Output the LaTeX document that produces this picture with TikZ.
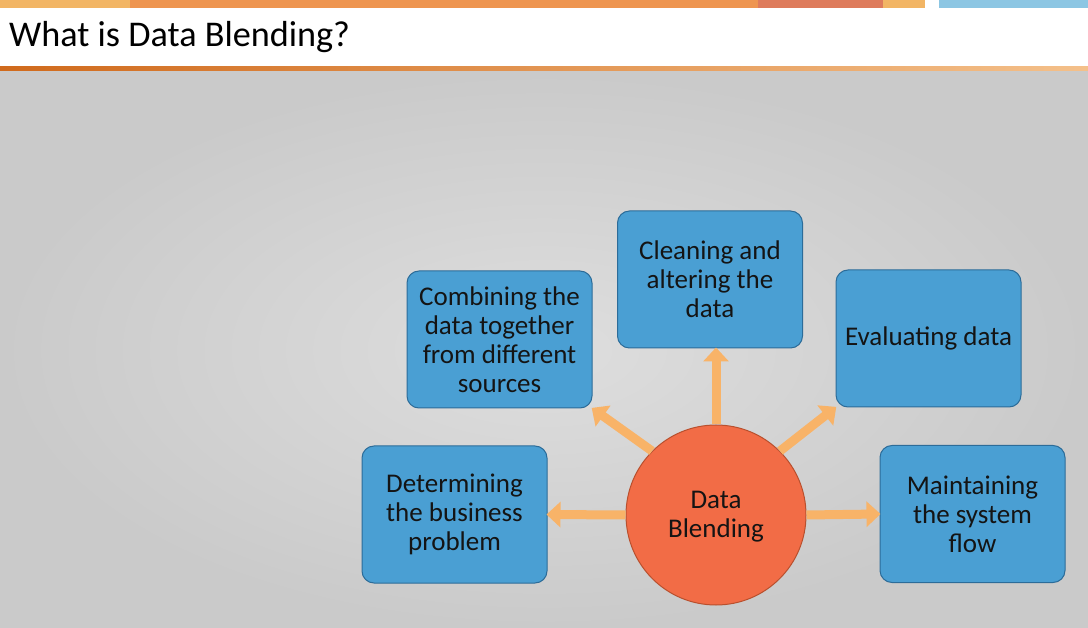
\documentclass[tikz,border=0pt]{standalone}
\usepackage{fontspec}
\setmainfont{Carlito}
\usetikzlibrary{arrows.meta,shapes.geometric}
\definecolor{barA}{HTML}{F2B564}
\definecolor{barB}{HTML}{EE9550}
\definecolor{barC}{HTML}{DE7B5C}
\definecolor{barD}{HTML}{8CC6E3}
\definecolor{ruleDark}{HTML}{D06A1C}
\definecolor{ruleLight}{HTML}{F4C08A}
\definecolor{bgIn}{HTML}{DEDEDE}
\definecolor{bgOut}{HTML}{CACACA}
\definecolor{boxFill}{HTML}{4A9FD3}
\definecolor{boxLine}{HTML}{2C6C99}
\definecolor{hubFill}{HTML}{F26C46}
\definecolor{hubLine}{HTML}{B9502E}
\definecolor{arrowCol}{HTML}{F8B368}
\tikzset{
  infobox/.style={draw=boxLine, line width=1pt, fill=boxFill, rounded corners=12pt,
    minimum width=185pt, minimum height=137pt, align=center, inner sep=0pt,
    font=\fontsize{27}{29}\selectfont, text=black!92},
  hub/.style={circle, draw=hubLine, line width=1pt, fill=hubFill, minimum size=180pt,
    align=center, inner sep=0pt, font=\fontsize{27}{29}\selectfont, text=black!92},
  fatarrow/.style={draw=arrowCol, line width=9pt,
    -{Triangle[length=14pt,width=25pt]}, shorten >=-1pt}
}
\begin{document}
\begin{tikzpicture}[x=1pt,y=-1pt]
\useasboundingbox (0,0) rectangle (1088,628);
% page background
\fill[white] (0,0) rectangle (1088,628);
\shade[inner color=bgIn, outer color=bgOut] (0,72) rectangle (1088,628);
% coloured strip at the top
\fill[barA] (0,0) rectangle (130,8);
\fill[barB] (130,0) rectangle (758,8);
\fill[barC] (758,0) rectangle (883,8);
\fill[barA] (883,0) rectangle (925,8);
\fill[barD] (939,0) rectangle (1088,8);
% title and its rule
\node[anchor=base west, inner sep=0pt, font=\fontsize{36.2}{40}\selectfont] (title) at (9,47) {What is Data Blending?};
\shade[left color=ruleDark, right color=ruleLight] (0,67) rectangle (1088,70.5);
% boxes
\node[infobox] (clean) at (710,279.5) {Cleaning and\\altering the\\data};
\node[infobox] (comb)  at (499.5,339.5) {Combining the\\data together\\from different\\sources};
\node[infobox] (eval)  at (928.5,338.5) {Evaluating data};
\node[infobox] (det)   at (454.5,514.5) {Determining\\the business\\problem};
\node[infobox, text depth=0pt] (maint) at (972.5,514) {Maintaining\\the system\\flow};
% connectors
\node[hub] (hub) at (716,515) {};
\draw[fatarrow] (hub.north) -- (hub.north |- clean.south);
\draw[fatarrow] (hub.135) -- (comb.south east);
\draw[fatarrow] (hub.45) -- (eval.south west);
\draw[fatarrow] (hub.west) -- (det.east);
\draw[fatarrow] (hub.east) -- (maint.west);
\node[hub, fill=none, draw=none] (hublabel) at (716,517) {Data\\Blending};
\end{tikzpicture}
\end{document}
